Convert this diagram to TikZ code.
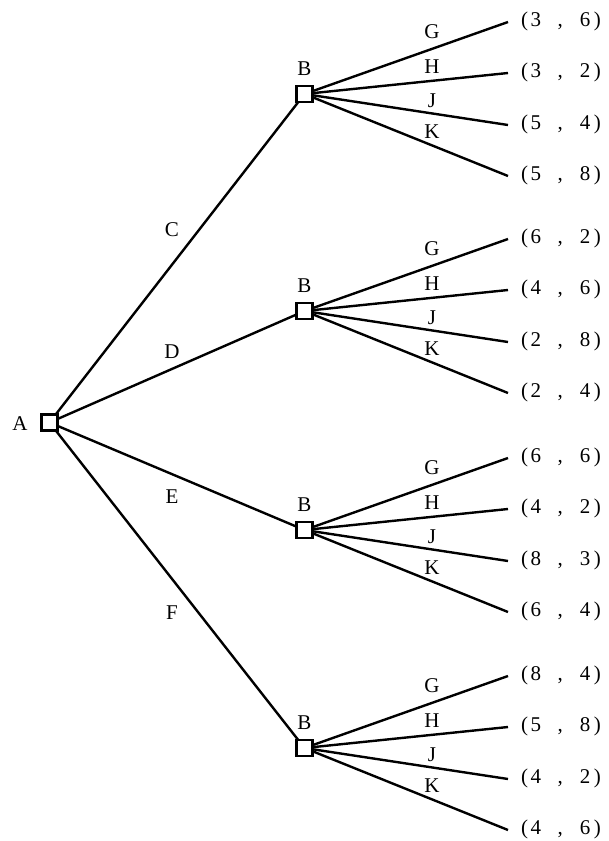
\documentclass[tikz,border=0pt]{standalone}
\usepackage{fontspec}
\setmainfont{Liberation Serif}
\begin{document}
\begin{tikzpicture}[x=1pt,y=-1pt,
  font=\fontsize{21}{24}\selectfont,
  box/.style={draw, line width=2.8pt, minimum size=16pt, inner sep=0pt, outer sep=0pt, fill=white},
  edge/.style={line width=2.4pt},
  lbl/.style={inner sep=0pt},
  leaf/.style={inner sep=0pt, anchor=west}]
\useasboundingbox (0,0) rectangle (608,841);

% root
\node[box] (a) at (49.5,422.5) {};
\node[lbl] (alab) at (20,424) {A};

% first-level labels
\node[lbl] (lc) at (172,230) {C};
\node[lbl] (ld) at (172,352) {D};
\node[lbl] (le) at (172,497) {E};
\node[lbl] (lf) at (172,613) {F};

% pair text helper: (x , y)
\newcommand{\pairtxt}[2]{(\hspace{2.5pt}#1\hspace{16.5pt},\hspace{17pt}#2\hspace{3.5pt})}

\foreach \g/\y/\pa/\pb/\pc/\pd/\pe/\pf/\pg/\ph in {
  1/22/3/6/3/2/5/4/5/8,
  2/239/6/2/4/6/2/8/2/4,
  3/458/6/6/4/2/8/3/6/4,
  4/676/8/4/5/8/4/2/4/6}{
  \node[box] (b\g) at (304.5,\y+72) {};
  \node[lbl] (bl\g) at (304.5,\y+47) {B};
  \draw[edge] (a) -- (b\g);
  % leaves
  \coordinate (e\g1) at (508,\y);
  \coordinate (e\g2) at (508,\y+51);
  \coordinate (e\g3) at (508,\y+103);
  \coordinate (e\g4) at (508,\y+154);
  \node[leaf] (p\g1) at (521,\y-1) {\pairtxt{\pa}{\pb}};
  \node[leaf] (p\g2) at (521,\y+50) {\pairtxt{\pc}{\pd}};
  \node[leaf] (p\g3) at (521,\y+102) {\pairtxt{\pe}{\pf}};
  \node[leaf] (p\g4) at (521,\y+153) {\pairtxt{\pg}{\ph}};
  \foreach \k in {1,2,3,4}{\draw[edge] (b\g) -- (e\g\k);}
  % branch labels
  \node[lbl] (g\g) at (432,\y+10) {G};
  \node[lbl] (h\g) at (432,\y+45) {H};
  \node[lbl] (j\g) at (432,\y+79) {J};
  \node[lbl] (k\g) at (432,\y+110) {K};
}
% redraw boxes above the lines
\foreach \g in {1,2,3,4}{\node[box] at (b\g) {};}
\node[box] at (a) {};
\end{tikzpicture}
\end{document}
